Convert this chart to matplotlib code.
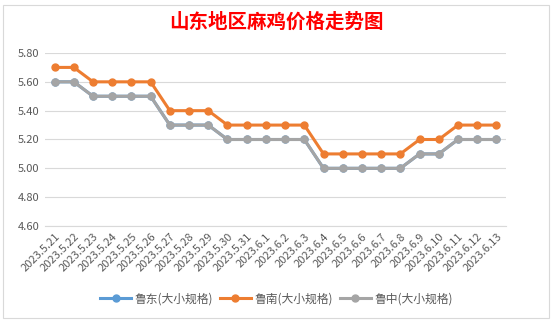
import matplotlib
matplotlib.use("Agg")
from matplotlib import pyplot as plt
from matplotlib.patches import Rectangle

plt.rcParams['font.family'] = ['Noto Sans CJK SC', 'DejaVu Sans']

dates = ["2023.5.21", "2023.5.22", "2023.5.23", "2023.5.24", "2023.5.25", "2023.5.26",
         "2023.5.27", "2023.5.28", "2023.5.29", "2023.5.30", "2023.5.31", "2023.6.1",
         "2023.6.2", "2023.6.3", "2023.6.4", "2023.6.5", "2023.6.6", "2023.6.7",
         "2023.6.8", "2023.6.9", "2023.6.10", "2023.6.11", "2023.6.12", "2023.6.13"]
ludong = [5.60, 5.60, 5.50, 5.50, 5.50, 5.50, 5.30, 5.30, 5.30, 5.20, 5.20, 5.20,
          5.20, 5.20, 5.00, 5.00, 5.00, 5.00, 5.00, 5.10, 5.10, 5.20, 5.20, 5.20]
lunan = [5.70, 5.70, 5.60, 5.60, 5.60, 5.60, 5.40, 5.40, 5.40, 5.30, 5.30, 5.30,
         5.30, 5.30, 5.10, 5.10, 5.10, 5.10, 5.10, 5.20, 5.20, 5.30, 5.30, 5.30]
luzhong = [5.60, 5.60, 5.50, 5.50, 5.50, 5.50, 5.30, 5.30, 5.30, 5.20, 5.20, 5.20,
           5.20, 5.20, 5.00, 5.00, 5.00, 5.00, 5.00, 5.10, 5.10, 5.20, 5.20, 5.20]
names = ["鲁东(大小规格)", "鲁南(大小规格)", "鲁中(大小规格)"]
colors = ["#5B9BD5", "#ED7D31", "#A5A5A5"]

fig = plt.figure(figsize=(5.53, 3.23), dpi=100)
fig.patches.append(Rectangle((3/553, 5/323), 546/553, 313/323, transform=fig.transFigure,
                             fill=False, edgecolor="#D9D9D9", lw=0.8))

ax = fig.add_axes([45/553, 1 - 226/323, 461/553, 173/323])
x = list(range(len(dates)))
for vals, name, c in zip([ludong, lunan, luzhong], names, colors):
    ax.plot(x, vals, color=c, lw=2.2, marker="o", markersize=5, label=name)

ax.set_xlim(-0.5, len(dates) - 0.5)
ax.set_ylim(4.6, 5.8)
ax.set_yticks([4.6, 4.8, 5.0, 5.2, 5.4, 5.6, 5.8])
ax.set_yticklabels(["%.2f" % v for v in ax.get_yticks()])
ax.grid(axis="y", color="#D9D9D9", lw=0.8)
ax.set_axisbelow(True)
for s in ["top", "right", "left"]:
    ax.spines[s].set_visible(False)
ax.spines["bottom"].set_color("#D9D9D9")
ax.set_xticks(x)
ax.set_xticklabels(dates, rotation=45, ha="right", rotation_mode="anchor")
ax.tick_params(axis="both", length=0, labelsize=8, colors="#595959", pad=4)

fig.text(0.5, 1 - 22/323, "山东地区麻鸡价格走势图", color="#FF0000", fontsize=14,
         fontweight="bold", ha="center", va="center")

leg = fig.legend(loc="center", bbox_to_anchor=(0.5, 1 - 299/323), ncol=3, frameon=False,
                 fontsize=8.5, handlelength=2.6, columnspacing=0.6, handletextpad=0.3)
for t in leg.get_texts():
    t.set_color("#595959")

fig.savefig("out.png", dpi=100)
